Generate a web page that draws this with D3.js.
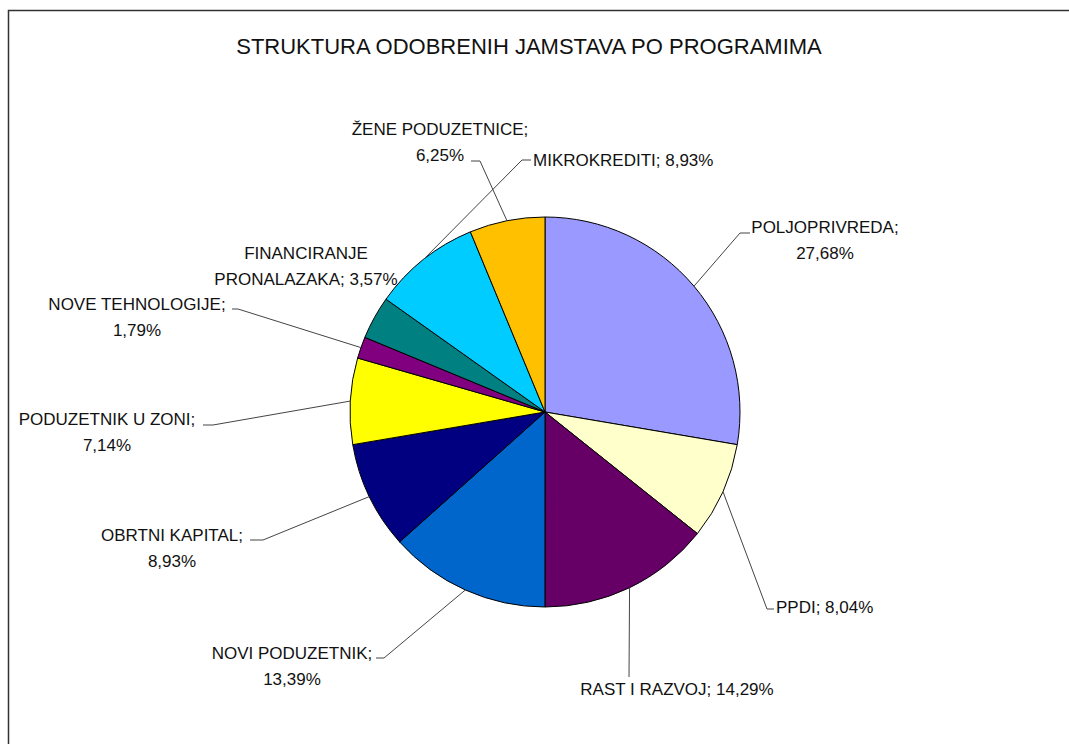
<!DOCTYPE html>
<html lang="hr">
<head>
<meta charset="UTF-8">
<title>Struktura odobrenih jamstava po programima</title>
<script src="https://cdn.jsdelivr.net/npm/d3@7/dist/d3.min.js"></script>
<style>
    body { margin: 0; background: #fff; }
    svg text { font-family: "Liberation Sans", Arial, sans-serif; fill: #111; }
</style>
</head>
<body>
<div id="chart"></div>
<script>
    // data
    const programs = ["POLJOPRIVREDA", "PPDI", "RAST I RAZVOJ", "NOVI PODUZETNIK", "OBRTNI KAPITAL",
                      "PODUZETNIK U ZONI", "NOVE TEHNOLOGIJE", "FINANCIRANJE PRONALAZAKA", "MIKROKREDITI", "ŽENE PODUZETNICE"];
    const shares = [27.68, 8.04, 14.29, 13.39, 8.93, 7.14, 1.79, 3.57, 8.93, 6.25];
    const colors = ["#9999FF", "#FFFFCC", "#660066", "#0066CC", "#000080",
                    "#FFFF00", "#800080", "#008080", "#00CCFF", "#FFC000"];
    const title = "STRUKTURA ODOBRENIH JAMSTAVA PO PROGRAMIMA";

    // label placement (Excel-style, labels were dragged by hand)
    // wrap: "value" = value on 2nd line, "one" = single line, "name" = break the name
    const labelLayout = [
        { x: 825, y: 233, anchor: "middle", wrap: "value", lx: 750, ly: 233, stub: -10 },
        { x: 776, y: 613, anchor: "start",  wrap: "one",   lx: 774, ly: 609, stub: -7 },
        { x: 677, y: 695, anchor: "middle", wrap: "one",   lx: 629, ly: 677, stub: 0 },
        { x: 292, y: 659, anchor: "middle", wrap: "value", lx: 376, ly: 658, stub: 8 },
        { x: 172, y: 541, anchor: "middle", wrap: "value", lx: 250, ly: 540, stub: 13 },
        { x: 107, y: 425, anchor: "middle", wrap: "value", lx: 203, ly: 425, stub: 10 },
        { x: 137, y: 310, anchor: "middle", wrap: "value", lx: 232, ly: 309, stub: 6 },
        { x: 306, y: 259, anchor: "middle", wrap: "name",  lx: null },
        { x: 533, y: 166, anchor: "start",  wrap: "one",   lx: 531, ly: 160, stub: -9 },
        { x: 440, y: 135, anchor: "middle", wrap: "value", lx: 471, ly: 161, stub: 9 }
    ];

    const width = 1069, height = 744;
    const cx = 545, cy = 412, radius = 195;
    const lineGap = 26;

    const svg = d3.select("#chart").append("svg")
        .attr("width", width)
        .attr("height", height);

    // chart frame (cut off at right/bottom in the original)
    svg.append("rect")
        .attr("x", 8.5).attr("y", 10.5)
        .attr("width", width + 20).attr("height", height + 20)
        .attr("fill", "#fff")
        .attr("stroke", "#333")
        .attr("stroke-width", 1.5);

    svg.append("text")
        .attr("x", 529).attr("y", 54)
        .attr("text-anchor", "middle")
        .style("font-size", "22px")
        .text(title);

    const pie = d3.pie().sort(null).value(d => d);
    const arcs = pie(shares);
    const arc = d3.arc().innerRadius(0).outerRadius(radius);
    const edge = d3.arc().innerRadius(radius).outerRadius(radius);

    const g = svg.append("g").attr("transform", `translate(${cx},${cy})`);

    g.selectAll("path.slice")
        .data(arcs)
        .enter()
        .append("path")
        .attr("class", "slice")
        .attr("d", arc)
        .attr("fill", (d, i) => colors[i])
        .attr("stroke", "#000")
        .attr("stroke-width", 1);

    const fmt = v => d3.format(".2f")(v).replace(".", ",") + "%";

    // leader lines: label -> short horizontal stub -> edge of slice at mid angle
    arcs.forEach((d, i) => {
        const L = labelLayout[i];
        if (L.lx === null) return;
        const p = edge.centroid(d);
        const pts = [[L.lx, L.ly], [L.lx + L.stub, L.ly], [cx + p[0], cy + p[1]]];
        svg.append("path")
            .attr("d", d3.line()(pts))
            .attr("fill", "none")
            .attr("stroke", "#444")
            .attr("stroke-width", 1);
    });

    // labels
    arcs.forEach((d, i) => {
        const L = labelLayout[i];
        const name = programs[i];
        const val = fmt(shares[i]);
        let lines;
        if (L.wrap === "one") lines = [name + "; " + val];
        else if (L.wrap === "value") lines = [name + ";", val];
        else {
            const k = name.indexOf(" ");
            lines = [name.slice(0, k), name.slice(k + 1) + "; " + val];
        }
        const t = svg.append("text")
            .attr("x", L.x).attr("y", L.y)
            .attr("text-anchor", L.anchor)
            .style("font-size", "17px");
        lines.forEach((line, j) => {
            t.append("tspan")
                .attr("x", L.x)
                .attr("dy", j === 0 ? 0 : lineGap)
                .text(line);
        });
    });
</script>
</body>
</html>
